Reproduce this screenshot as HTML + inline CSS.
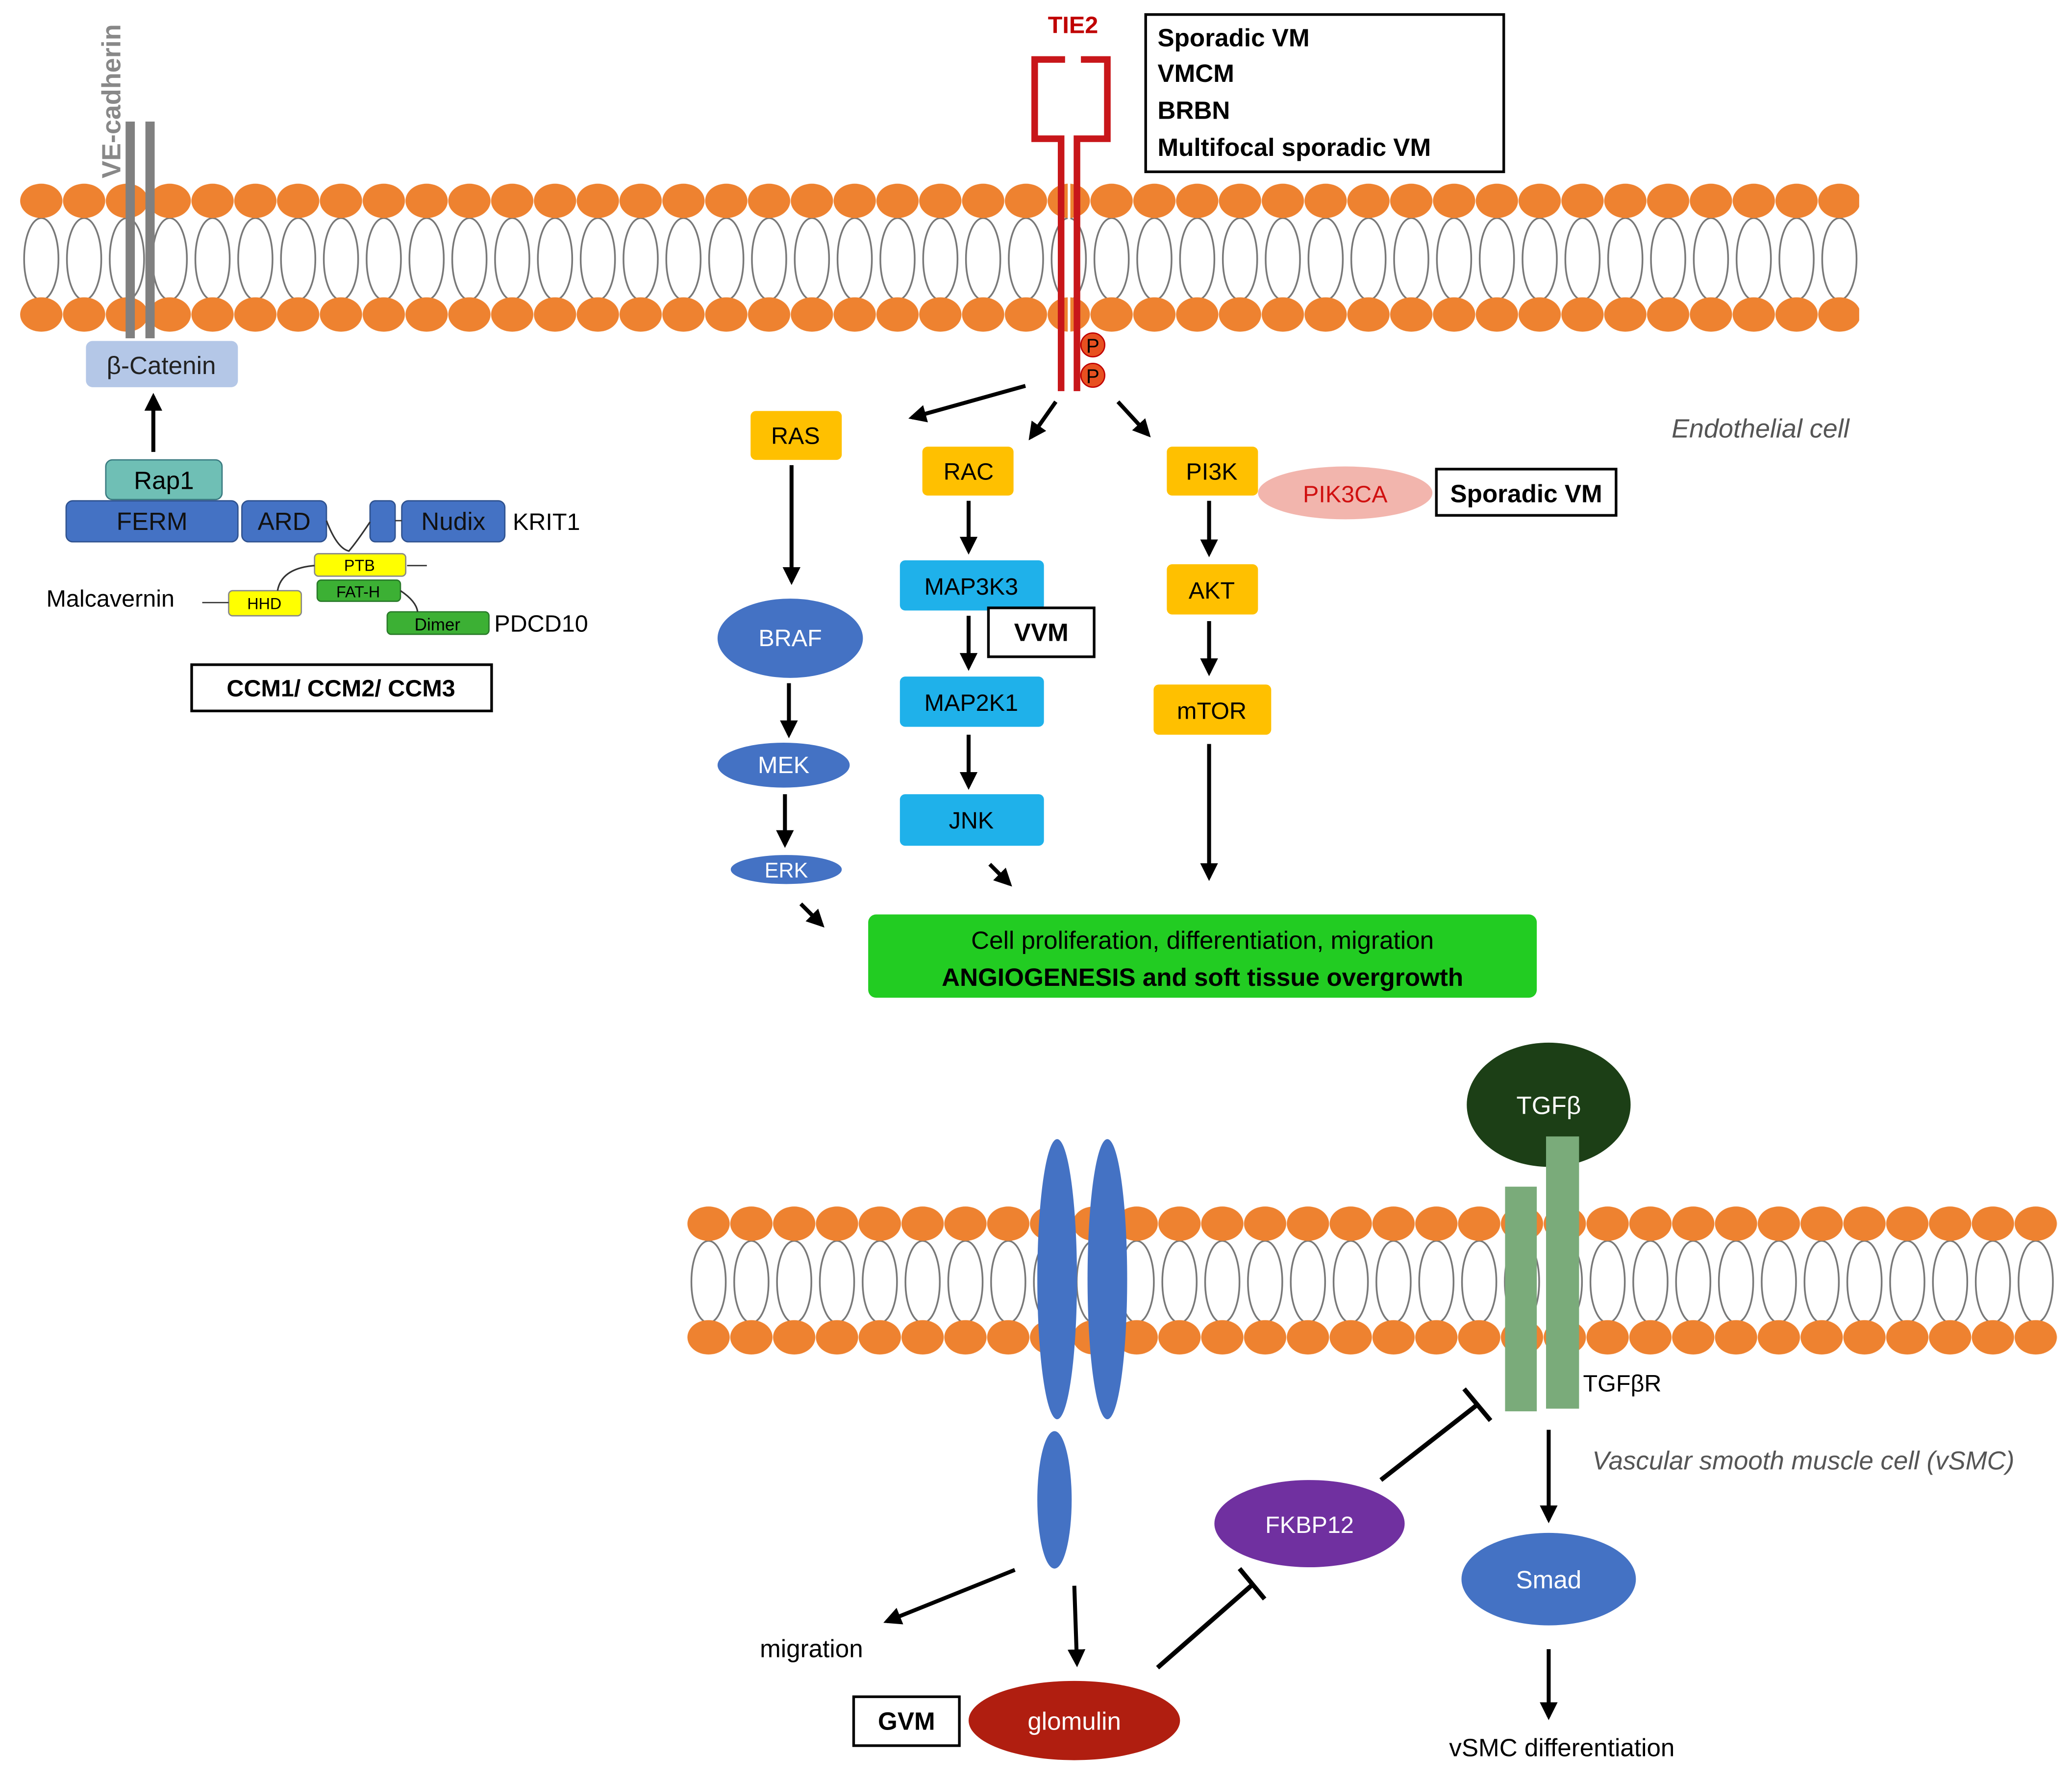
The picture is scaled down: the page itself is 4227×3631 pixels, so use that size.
<!DOCTYPE html>
<html><head><meta charset="utf-8"><style>html,body{margin:0;padding:0;background:#fff}svg{display:block}text{font-family:"Liberation Sans",sans-serif}</style></head>
<body>
<svg width="4227" height="3631" viewBox="0 0 1568 1347" xmlns="http://www.w3.org/2000/svg">
<defs>
<marker id="ah" viewBox="0 0 10 10" refX="8" refY="5" markerWidth="4.5" markerHeight="4.5" orient="auto"><path d="M0,0 L10,5 L0,10 z" fill="#000"/></marker>
<pattern id="m1" patternUnits="userSpaceOnUse" x="15" y="130" width="32.4" height="130">
<ellipse cx="16.2" cy="66" rx="13" ry="31" fill="#fff" stroke="#777" stroke-width="1.3"/>
<ellipse cx="16.2" cy="22" rx="16" ry="13" fill="#ee8230"/>
<ellipse cx="16.2" cy="108" rx="16" ry="13" fill="#ee8230"/>
</pattern>
<pattern id="m2" patternUnits="userSpaceOnUse" x="520" y="904" width="32.4" height="130">
<ellipse cx="16.2" cy="66" rx="13" ry="31" fill="#fff" stroke="#777" stroke-width="1.3"/>
<ellipse cx="16.2" cy="22" rx="16" ry="13" fill="#ee8230"/>
<ellipse cx="16.2" cy="108" rx="16" ry="13" fill="#ee8230"/>
</pattern>
</defs>
<rect x="15" y="130" width="1392" height="130" fill="url(#m1)"/>
<rect x="520" y="904" width="1037" height="130" fill="url(#m2)"/>

<!-- VE-cadherin -->
<rect x="95" y="92" width="7" height="164" fill="#808080"/>
<rect x="110" y="92" width="7" height="164" fill="#808080"/>
<text transform="translate(91,135) rotate(-90)" font-size="20" font-weight="bold" fill="#888">VE-cadherin</text>
<rect x="65" y="258" width="115" height="35" rx="5" fill="#b4c7e7"/>
<text x="122" y="283" font-size="19" text-anchor="middle" fill="#222">β-Catenin</text>
<line x1="116" y1="342" x2="116" y2="300" stroke="#000" stroke-width="3" marker-end="url(#ah)"/>
<rect x="80" y="348" width="88" height="30" rx="5" fill="#6fbfb5" stroke="#3a7a80"/>
<text x="124" y="370" font-size="19" text-anchor="middle">Rap1</text>
<rect x="50" y="379" width="130" height="31" rx="5" fill="#4472c4" stroke="#2f528f"/>
<text x="115" y="401" font-size="19" text-anchor="middle" fill="#111">FERM</text>
<rect x="183" y="379" width="64" height="31" rx="5" fill="#4472c4" stroke="#2f528f"/>
<text x="215" y="401" font-size="19" text-anchor="middle" fill="#111">ARD</text>
<rect x="280" y="379" width="19" height="31" rx="4" fill="#4472c4" stroke="#2f528f"/>
<rect x="304" y="379" width="78" height="31" rx="5" fill="#4472c4" stroke="#2f528f"/>
<text x="343" y="401" font-size="19" text-anchor="middle" fill="#111">Nudix</text>
<text x="388" y="401" font-size="18">KRIT1</text>
<path d="M247,394 Q255,415 264,417 Q270,410 280,395" fill="none" stroke="#333" stroke-width="1.2"/>
<line x1="299" y1="394" x2="304" y2="394" stroke="#333"/>
<rect x="238" y="419" width="69" height="17" rx="3" fill="#ffff00" stroke="#888"/>
<text x="272" y="432" font-size="12" text-anchor="middle">PTB</text>
<line x1="308" y1="428" x2="323" y2="428" stroke="#333"/>
<rect x="240" y="439" width="63" height="16" rx="3" fill="#3cb034" stroke="#2a7a2a"/>
<text x="271" y="452" font-size="12" text-anchor="middle">FAT-H</text>
<rect x="173" y="447" width="55" height="19" rx="3" fill="#ffff00" stroke="#888"/>
<text x="200" y="461" font-size="12" text-anchor="middle">HHD</text>
<path d="M210,447 Q213,430 238,428" fill="none" stroke="#333" stroke-width="1.2"/>
<rect x="293" y="463" width="77" height="17" rx="3" fill="#3cb034" stroke="#2a7a2a"/>
<text x="331" y="477" font-size="13" text-anchor="middle">Dimer</text>
<path d="M303,447 Q315,455 316,463" fill="none" stroke="#333" stroke-width="1.2"/>
<text x="374" y="478" font-size="18">PDCD10</text>
<text x="35" y="459" font-size="18">Malcavernin</text>
<line x1="153" y1="456" x2="173" y2="456" stroke="#333"/>
<rect x="145" y="503" width="227" height="35" fill="#fff" stroke="#000" stroke-width="2"/>
<text x="258" y="527" font-size="18" font-weight="bold" text-anchor="middle">CCM1/ CCM2/ CCM3</text>

<!-- TIE2 -->
<text x="812" y="25" font-size="18" font-weight="bold" fill="#c00000" text-anchor="middle">TIE2</text>
<path d="M803,296 V105 H783 V45 H806" fill="none" stroke="#c8161a" stroke-width="5"/>
<path d="M815,296 V105 H838 V45 H818" fill="none" stroke="#c8161a" stroke-width="5"/>
<line x1="809" y1="107" x2="809" y2="296" stroke="#fff" stroke-width="2"/>
<circle cx="827" cy="261" r="9" fill="#e85020" stroke="#c00000"/>
<text x="827" y="267" font-size="15" text-anchor="middle">P</text>
<circle cx="827" cy="284" r="9" fill="#e85020" stroke="#c00000"/>
<text x="827" y="290" font-size="15" text-anchor="middle">P</text>
<rect x="867" y="11" width="271" height="119" fill="#fff" stroke="#000" stroke-width="2"/>
<text x="876" y="35" font-size="19" font-weight="bold">Sporadic VM</text>
<text x="876" y="62" font-size="19" font-weight="bold">VMCM</text>
<text x="876" y="90" font-size="19" font-weight="bold">BRBN</text>
<text x="876" y="118" font-size="19" font-weight="bold">Multifocal sporadic VM</text>
<text x="1265" y="331" font-size="20" font-style="italic" fill="#555">Endothelial cell</text>

<g stroke="#000" stroke-width="3" marker-end="url(#ah)">
<line x1="776" y1="292" x2="690" y2="316"/>
<line x1="799" y1="304" x2="780" y2="331"/>
<line x1="846" y1="304" x2="869" y2="329"/>
<line x1="599" y1="352" x2="599" y2="440"/>
<line x1="597" y1="517" x2="597" y2="556"/>
<line x1="594" y1="601" x2="594" y2="639"/>
<line x1="606" y1="684" x2="622" y2="700"/>
<line x1="733" y1="379" x2="733" y2="417"/>
<line x1="733" y1="466" x2="733" y2="505"/>
<line x1="733" y1="556" x2="733" y2="595"/>
<line x1="749" y1="654" x2="764" y2="669"/>
<line x1="915" y1="379" x2="915" y2="419"/>
<line x1="915" y1="470" x2="915" y2="509"/>
<line x1="915" y1="563" x2="915" y2="664"/>
</g>
<rect x="568" y="311" width="69" height="37" rx="4" fill="#ffc000"/>
<text x="602" y="336" font-size="18" text-anchor="middle">RAS</text>
<rect x="698" y="338" width="69" height="37" rx="4" fill="#ffc000"/>
<text x="733" y="363" font-size="18" text-anchor="middle">RAC</text>
<rect x="883" y="338" width="69" height="37" rx="4" fill="#ffc000"/>
<text x="917" y="363" font-size="18" text-anchor="middle">PI3K</text>
<ellipse cx="1018" cy="373" rx="66" ry="20" fill="#f2b5ad"/>
<text x="1018" y="380" font-size="18" fill="#d01010" text-anchor="middle">PIK3CA</text>
<rect x="1087" y="355" width="136" height="35" fill="#fff" stroke="#000" stroke-width="2"/>
<text x="1155" y="380" font-size="19" font-weight="bold" text-anchor="middle">Sporadic VM</text>
<rect x="883" y="427" width="69" height="38" rx="4" fill="#ffc000"/>
<text x="917" y="453" font-size="18" text-anchor="middle">AKT</text>
<rect x="873" y="518" width="89" height="38" rx="4" fill="#ffc000"/>
<text x="917" y="544" font-size="18" text-anchor="middle">mTOR</text>

<ellipse cx="598" cy="483" rx="55" ry="30" fill="#4472c4"/>
<text x="598" y="489" font-size="18" fill="#fff" text-anchor="middle">BRAF</text>
<ellipse cx="593" cy="579" rx="50" ry="17" fill="#4472c4"/>
<text x="593" y="585" font-size="18" fill="#fff" text-anchor="middle">MEK</text>
<ellipse cx="595" cy="658" rx="42" ry="11" fill="#4472c4"/>
<text x="595" y="664" font-size="16" fill="#fff" text-anchor="middle">ERK</text>

<rect x="681" y="424" width="109" height="38" rx="4" fill="#1fb1ea"/>
<text x="735" y="450" font-size="18" text-anchor="middle">MAP3K3</text>
<rect x="748" y="460" width="80" height="37" fill="#fff" stroke="#000" stroke-width="2"/>
<text x="788" y="485" font-size="19" font-weight="bold" text-anchor="middle">VVM</text>
<rect x="681" y="512" width="109" height="38" rx="4" fill="#1fb1ea"/>
<text x="735" y="538" font-size="18" text-anchor="middle">MAP2K1</text>
<rect x="681" y="601" width="109" height="39" rx="4" fill="#1fb1ea"/>
<text x="735" y="627" font-size="18" text-anchor="middle">JNK</text>

<rect x="657" y="692" width="506" height="63" rx="6" fill="#22cc22"/>
<text x="910" y="718" font-size="19" text-anchor="middle">Cell proliferation, differentiation, migration</text>
<text x="910" y="746" font-size="19" font-weight="bold" text-anchor="middle">ANGIOGENESIS and soft tissue overgrowth</text>

<!-- bottom -->
<ellipse cx="800" cy="968" rx="15" ry="106" fill="#4472c4"/>
<ellipse cx="838" cy="968" rx="15" ry="106" fill="#4472c4"/>
<ellipse cx="798" cy="1135" rx="13" ry="52" fill="#4472c4"/>
<ellipse cx="1172" cy="836" rx="62" ry="47" fill="#1c3f16"/>
<text x="1172" y="843" font-size="19" fill="#fff" text-anchor="middle">TGFβ</text>
<rect x="1139" y="898" width="24" height="170" fill="#7aab7a"/>
<rect x="1170" y="860" width="25" height="206" fill="#7aab7a"/>
<text x="1198" y="1053" font-size="18">TGFβR</text>
<text x="1205" y="1112" font-size="19.6" font-style="italic" fill="#555">Vascular smooth muscle cell (vSMC)</text>
<g stroke="#000" stroke-width="3.5">
<line x1="1045" y1="1120" x2="1118" y2="1063"/>
<line x1="1108" y1="1051" x2="1128" y2="1075"/>
<line x1="876" y1="1262" x2="948" y2="1199"/>
<line x1="938" y1="1187" x2="957" y2="1210"/>
</g>
<g stroke="#000" stroke-width="3" marker-end="url(#ah)">
<line x1="1172" y1="1082" x2="1172" y2="1150"/>
<line x1="1172" y1="1248" x2="1172" y2="1299"/>
<line x1="768" y1="1188" x2="671" y2="1227"/>
<line x1="813" y1="1200" x2="815" y2="1259"/>
</g>
<ellipse cx="991" cy="1153" rx="72" ry="33" fill="#7030a0"/>
<text x="991" y="1160" font-size="18" fill="#fff" text-anchor="middle">FKBP12</text>
<ellipse cx="1172" cy="1195" rx="66" ry="35" fill="#4472c4"/>
<text x="1172" y="1202" font-size="19" fill="#fff" text-anchor="middle">Smad</text>
<text x="1182" y="1329" font-size="19" text-anchor="middle">vSMC differentiation</text>
<text x="575" y="1254" font-size="19">migration</text>
<ellipse cx="813" cy="1302" rx="80" ry="30" fill="#b01e10"/>
<text x="813" y="1309" font-size="19" fill="#fff" text-anchor="middle">glomulin</text>
<rect x="646" y="1284" width="80" height="37" fill="#fff" stroke="#000" stroke-width="2"/>
<text x="686" y="1309" font-size="19" font-weight="bold" text-anchor="middle">GVM</text>
</svg>
</body></html>
